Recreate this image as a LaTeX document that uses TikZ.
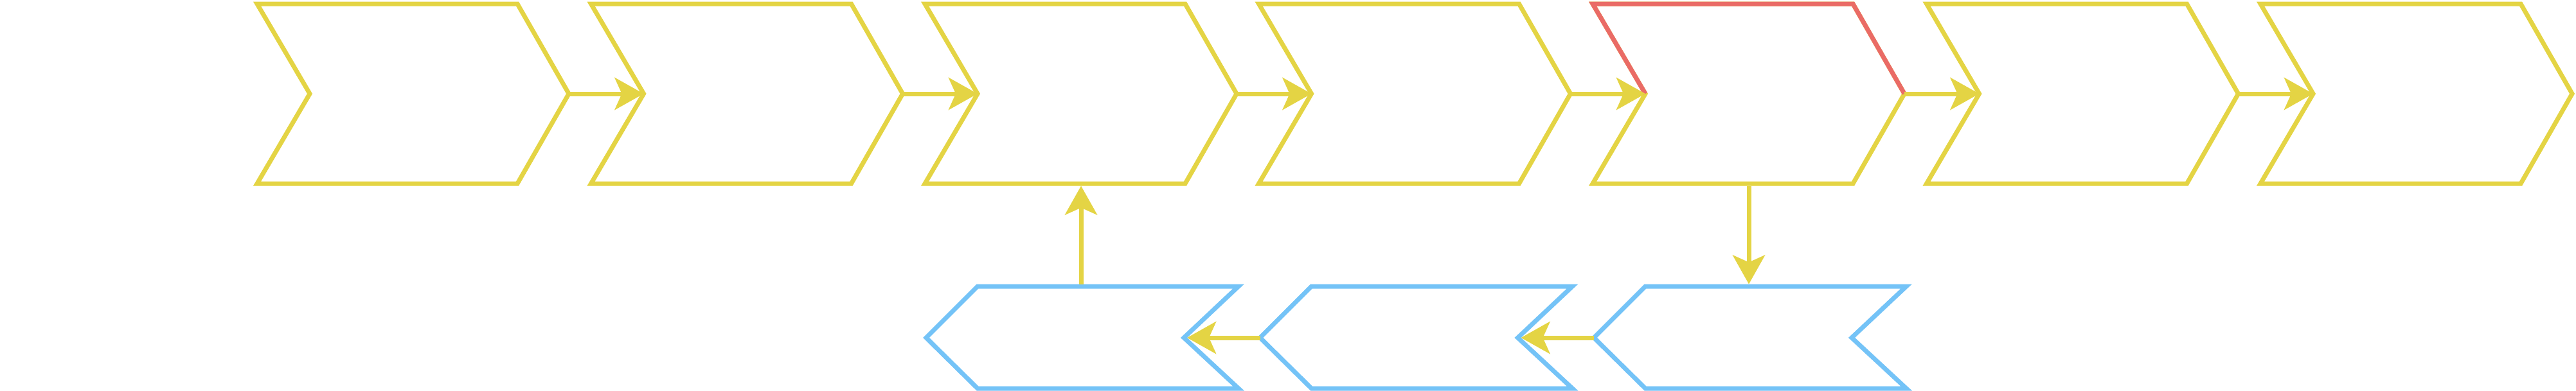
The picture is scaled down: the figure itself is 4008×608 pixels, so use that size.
\documentclass[tikz,border=0pt]{standalone}
\usetikzlibrary{arrows.meta}
\definecolor{yel}{HTML}{E4D444}
\definecolor{redc}{HTML}{EA6B66}
\definecolor{blu}{HTML}{74C3F7}
\newcommand\topchev[2]{%
  \draw[ybox] (#2,6) -- (#2+405,6) -- (#2+485,146) -- (#2+405,286) -- (#2,286) -- (#2+82,146) -- cycle;
  \coordinate (#1-tip) at (#2+485,146);
  \coordinate (#1-notch) at (#2+82,146);
  \coordinate (#1-bot) at (#2+243,289.5);
}
\newcommand\lowchev[2]{%
  \draw[bbox] (#2+2,526) -- (#2+82,446) -- (#2+488,446) -- (#2+403,526) -- (#2+488,605) -- (#2+82,605) -- cycle;
  \coordinate (#1-pt) at (#2+2,526);
  \coordinate (#1-notch) at (#2+408,526);
  \coordinate (#1-top) at (#2+243,442.5);
}
\begin{document}
\begin{tikzpicture}[x=0.01cm,y=-0.01cm,
  ybox/.style={draw=yel, line width=0.07cm, fill=white},
  bbox/.style={draw=blu, line width=0.07cm, fill=white},
  rline/.style={draw=redc, line width=0.07cm},
  conn/.style={draw=yel, line width=0.07cm, -{Stealth[length=0.45cm,width=0.5cm,inset=0.11cm]}}]
\useasboundingbox (0,0) rectangle (4008,608);
\topchev{t1}{400}
\topchev{t2}{919.5}
\topchev{t3}{1439}
\topchev{t4}{1958.5}
\topchev{t5}{2478}
\topchev{t6}{2997.5}
\topchev{t7}{3517}
\draw[rline] (2478+82,146) -- (2478,6) -- (2478+405,6) -- (2478+485,146);
\lowchev{a}{1439}
\lowchev{b}{1958.5}
\lowchev{c}{2478}
\draw[conn] (t1-tip) -- (t2-notch);
\draw[conn] (t2-tip) -- (t3-notch);
\draw[conn] (t3-tip) -- (t4-notch);
\draw[conn] (t4-tip) -- (t5-notch);
\draw[conn] (t5-tip) -- (t6-notch);
\draw[conn] (t6-tip) -- (t7-notch);
\draw[conn] (t5-bot) -- (c-top);
\draw[conn] (c-pt) -- (b-notch);
\draw[conn] (b-pt) -- (a-notch);
\draw[conn] (a-top) -- (t3-bot);
\end{tikzpicture}
\end{document}
